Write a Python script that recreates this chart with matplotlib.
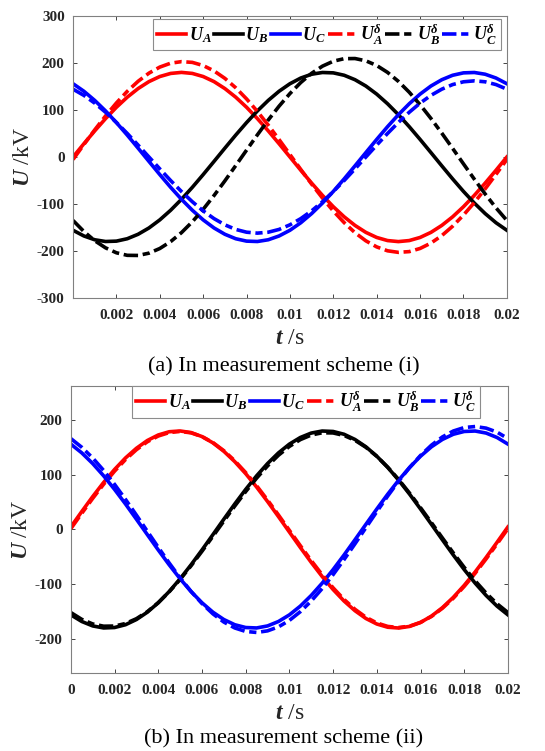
import numpy as np
import matplotlib
matplotlib.use("Agg")
import matplotlib.pyplot as plt

# ---------------- data (kV), sampled every 0.5 ms over 0..0.02 s ----------------
t = np.linspace(0.0, 0.02, 41)

# solid phase voltages (shared shape in both schemes)
ub = [-155.9, -168.0, -176.1, -179.8, -179.0, -173.9, -164.4, -151.0, -133.8, -113.3,
      -90.0, -64.5, -37.4, -9.4, 18.8, 46.6, 73.2, 98.0, 120.4, 139.9,
      155.9, 168.0, 176.1, 179.8, 179.0, 173.9, 164.4, 151.0, 133.8, 113.3,
      90.0, 64.5, 37.4, 9.4, -18.8, -46.6, -73.2, -98.0, -120.4, -139.9, -155.9]
uc = [155.9, 139.9, 120.4, 98.0, 73.2, 46.6, 18.8, -9.4, -37.4, -64.5,
      -90.0, -113.3, -133.8, -151.0, -164.4, -173.9, -179.0, -179.8, -176.1, -168.0,
      -155.9, -139.9, -120.4, -98.0, -73.2, -46.6, -18.8, 9.4, 37.4, 64.5,
      90.0, 113.3, 133.8, 151.0, 164.4, 173.9, 179.0, 179.8, 176.1, 168.0, 155.9]

# (a) measurement scheme (i)
ua_a = [0.0, 28.2, 55.6, 81.7, 105.8, 127.3, 145.6, 160.4, 171.2, 177.8,
        180.0, 177.8, 171.2, 160.4, 145.6, 127.3, 105.8, 81.7, 55.6, 28.2,
        0.0, -28.2, -55.6, -81.7, -105.8, -127.3, -145.6, -160.4, -171.2, -177.8,
        -180.0, -177.8, -171.2, -160.4, -145.6, -127.3, -105.8, -81.7, -55.6, -28.2, 0.0]
uad_a = [-5.3, 26.5, 57.7, 87.4, 115.0, 139.7, 161.1, 178.4, 191.3, 199.6,
         202.9, 201.3, 194.6, 183.2, 167.3, 147.3, 123.6, 96.9, 67.8, 37.0,
         5.3, -26.5, -57.7, -87.4, -115.0, -139.7, -161.1, -178.4, -191.3, -199.6,
         -202.9, -201.3, -194.6, -183.2, -167.3, -147.3, -123.6, -96.9, -67.8, -37.0, -5.3]
ubd_a = [-135.0, -158.5, -178.1, -193.3, -203.8, -209.2, -209.5, -204.6, -194.7, -180.0,
         -160.9, -137.8, -111.3, -82.0, -50.8, -18.3, 14.6, 47.2, 78.7, 108.2,
         135.0, 158.5, 178.1, 193.3, 203.8, 209.2, 209.5, 204.6, 194.7, 180.0,
         160.9, 137.8, 111.3, 82.0, 50.8, 18.3, -14.6, -47.2, -78.7, -108.2, -135.0]
ucd_a = [144.3, 131.1, 114.6, 95.2, 73.5, 50.1, 25.3, 0.0, -25.3, -50.1,
         -73.5, -95.2, -114.6, -131.1, -144.3, -154.1, -160.0, -162.0, -160.0, -154.1,
         -144.3, -131.1, -114.6, -95.2, -73.5, -50.1, -25.3, 0.0, 25.3, 50.1,
         73.5, 95.2, 114.6, 131.1, 144.3, 154.1, 160.0, 162.0, 160.0, 154.1, 144.3]

# (b) measurement scheme (ii)
ua_b = [4.7, 32.8, 60.1, 85.9, 109.6, 130.6, 148.3, 162.5, 172.6, 178.5,
        179.9, 177.0, 169.7, 158.2, 142.8, 123.9, 102.0, 77.5, 51.1, 23.5,
        -4.7, -32.8, -60.1, -85.9, -109.6, -130.6, -148.3, -162.5, -172.6, -178.5,
        -179.9, -177.0, -169.7, -158.2, -142.8, -123.9, -102.0, -77.5, -51.1, -23.5, 4.7]
uad_b = [1.6, 29.5, 56.8, 82.6, 106.5, 127.7, 145.7, 160.2, 170.7, 177.0,
         179.0, 176.5, 169.7, 158.8, 143.9, 125.5, 103.9, 79.9, 53.8, 26.5,
         -1.6, -29.5, -56.8, -82.6, -106.5, -127.7, -145.7, -160.2, -170.7, -177.0,
         -179.0, -176.5, -169.7, -158.8, -143.9, -125.5, -103.9, -79.9, -53.8, -26.5, 1.6]
ubd_b = [-151.7, -164.1, -172.5, -176.6, -176.3, -171.7, -162.9, -150.1, -133.6, -113.8,
         -91.2, -66.3, -39.8, -12.4, 15.4, 42.8, 69.2, 93.8, 116.1, 135.6,
         151.7, 164.1, 172.5, 176.6, 176.3, 171.7, 162.9, 150.1, 133.6, 113.8,
         91.2, 66.3, 39.8, 12.4, -15.4, -42.8, -69.2, -93.8, -116.1, -135.6, -151.7]
ucd_b = [166.0, 150.1, 130.6, 107.8, 82.4, 55.0, 26.2, -3.3, -32.6, -61.2,
         -88.3, -113.1, -135.2, -154.0, -169.0, -179.8, -186.2, -188.0, -185.1, -177.8,
         -166.0, -150.1, -130.6, -107.8, -82.4, -55.0, -26.2, 3.3, 32.6, 61.2,
         88.3, 113.1, 135.2, 154.0, 169.0, 179.8, 186.2, 188.0, 185.1, 177.8, 166.0]

labels = [r"$\mathbfit{U}_{\mathbfit{A}}$", r"$\mathbfit{U}_{\mathbfit{B}}$", r"$\mathbfit{U}_{\mathbfit{C}}$",
          r"$\mathbfit{U}_{\mathbfit{A}}^{\mathbfit{\delta}}$", r"$\mathbfit{U}_{\mathbfit{B}}^{\mathbfit{\delta}}$",
          r"$\mathbfit{U}_{\mathbfit{C}}^{\mathbfit{\delta}}$"]
xticks_a = [0.002, 0.004, 0.006, 0.008, 0.01, 0.012, 0.014, 0.016, 0.018, 0.02]
xticks_b = [0, 0.002, 0.004, 0.006, 0.008, 0.01, 0.012, 0.014, 0.016, 0.018, 0.02]
xticklabels_a = ["0.002", "0.004", "0.006", "0.008", "0.01", "0.012", "0.014", "0.016", "0.018", "0.02"]
xticklabels_b = ["0"] + xticklabels_a
yticks_a = [-300, -200, -100, 0, 100, 200, 300]
yticks_b = [-200, -100, 0, 100, 200]
captions = ["(a) In measurement scheme (i)", "(b) In measurement scheme (ii)"]

# ---------------- style ----------------
plt.rcParams['font.family'] = ['Liberation Serif', 'DejaVu Serif']
plt.rcParams['mathtext.fontset'] = 'custom'
plt.rcParams['mathtext.rm'] = 'Liberation Serif'
plt.rcParams['mathtext.it'] = 'Liberation Serif:italic'
plt.rcParams['mathtext.bf'] = 'Liberation Serif:bold'
plt.rcParams['mathtext.bfit'] = 'Liberation Serif:italic:bold'

RED, BLACK, BLUE = '#ff0000', '#000000', '#0000ff'
DASH = (0, (4.0, 1.3, 2.0, 1.3))
LW = 2.6
GRAY = '#262626'

fig = plt.figure(figsize=(5.45, 7.51), dpi=100)
ax1 = fig.add_axes([0.134, 0.6032, 0.796, 0.3755])
ax2 = fig.add_axes([0.130, 0.1039, 0.802, 0.3821])


def draw(ax, ua, ud, uad, ubd, ucd):
    ax.plot(t, ua, color=RED, lw=LW, label=labels[0])
    ax.plot(t, ud, color=BLACK, lw=LW, label=labels[1])
    ax.plot(t, uc, color=BLUE, lw=LW, label=labels[2])
    ax.plot(t, uad, color=RED, lw=LW, ls=DASH, label=labels[3])
    ax.plot(t, ubd, color=BLACK, lw=LW, ls=DASH, label=labels[4])
    ax.plot(t, ucd, color=BLUE, lw=LW, ls=DASH, label=labels[5])


draw(ax1, ua_a, ub, uad_a, ubd_a, ucd_a)
draw(ax2, ua_b, ub, uad_b, ubd_b, ucd_b)

setups = [
    (ax1, (-300, 300), yticks_a, xticks_a, xticklabels_a, (0.986, 0.99), 'upper right'),
    (ax2, (-262, 262), yticks_b, xticks_b, xticklabels_b, (0.538, 1.0), 'upper center'),
]
for ax, ylim, yt, xt, xtl, anchor, loc in setups:
    ax.set_xlim(0, 0.02)
    ax.set_ylim(*ylim)
    ax.set_yticks(yt)
    ax.set_yticklabels([str(v) for v in yt])
    ax.set_xticks(xt)
    ax.set_xticklabels(xtl)
    ax.tick_params(direction='in', length=3, width=0.6, colors=GRAY, labelsize=11,
                   top=True, right=True)
    ax.tick_params(axis='x', pad=8)
    ax.tick_params(axis='y', pad=6)
    for lab in ax.get_xticklabels() + ax.get_yticklabels():
        lab.set_fontweight('bold')
    for sp in ax.spines.values():
        sp.set_color('#808080')
        sp.set_linewidth(0.8)
    ax.set_ylabel(r"$\mathbfit{U}$ /kV", fontsize=17, color=GRAY, labelpad=2)
    ax.set_xlabel(r"$\mathbfit{t}$ /s", fontsize=17, color=GRAY, labelpad=4)
    leg = ax.legend(loc=loc, bbox_to_anchor=anchor, ncol=6, fontsize=13,
                    handlelength=1.6, handletextpad=0.15, columnspacing=0.12,
                    borderpad=0.2, borderaxespad=0.0, fancybox=False, framealpha=1.0,
                    edgecolor='#8c8c8c')
    leg.get_frame().set_linewidth(0.8)

fig.text(0.52, 1 - 367 / 751, captions[0], ha='center', va='center', fontsize=16)
fig.text(0.52, 1 - 739 / 751, captions[1], ha='center', va='center', fontsize=16)

fig.savefig("out.png", dpi=100)
